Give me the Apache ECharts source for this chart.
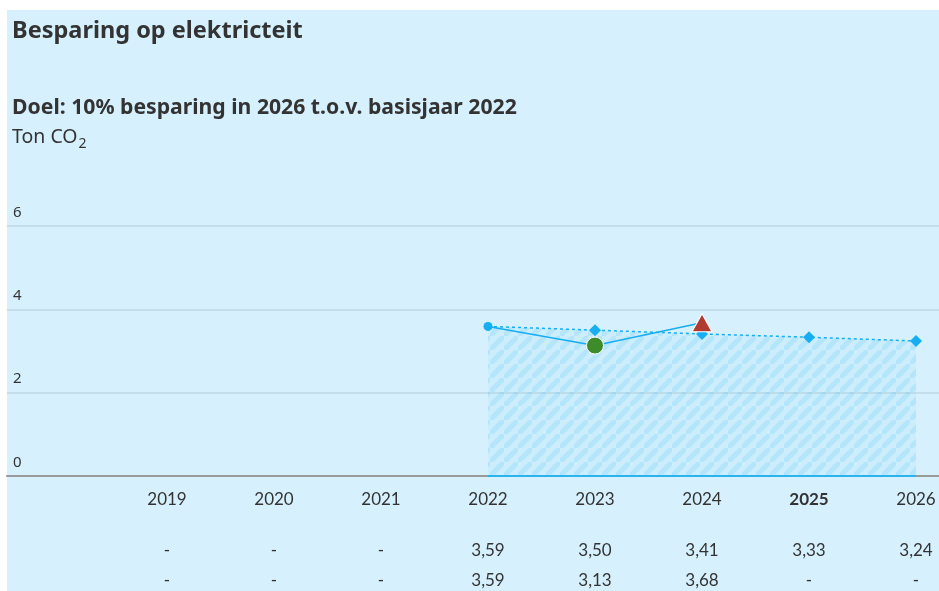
<!DOCTYPE html>
<html><head><meta charset="utf-8">
<script src="https://cdn.jsdelivr.net/npm/echarts@6/dist/echarts.min.js"></script>
<style>html,body{margin:0;padding:0;background:#fff}#c{width:939px;height:591px}</style>
</head><body><div id="c"></div>
<script>
// ---- data ----
const years = ['2019','2020','2021','2022','2023','2024','2025','2026'];
const target = [null, null, null, 3.59, 3.50, 3.41, 3.33, 3.24];
const actual = [null, null, null, 3.59, 3.13, 3.68, null, null];
const yTicks = [0, 2, 4, 6];
const boldYear = '2025';
const titleText = 'Besparing op elektricteit';
const subtitleText = 'Doel: 10% besparing in 2026 t.o.v. basisjaar 2022';
const unitMain = 'Ton CO';
const unitSub = '2';

const FONT = 'Lato, "Noto Sans", sans-serif';
const HFONT = '"Noto Sans", sans-serif';
const fmt = v => v == null ? '-' : v.toFixed(2).replace('.', ',');

// hatched pattern (semi-transparent so grid lines show through)
const T = 14;
const tile = document.createElement('canvas');
tile.width = T; tile.height = T;
const g = tile.getContext('2d');
g.fillStyle = 'rgba(23,174,242,0.05)'; g.fillRect(0, 0, T, T);
g.strokeStyle = 'rgba(23,174,242,0.13)'; g.lineWidth = 5;
g.beginPath();
g.moveTo(-T/2, T*1.5); g.lineTo(T*1.5, -T/2);
g.moveTo(-T*1.5, T/2); g.lineTo(T/2, -T*1.5);
g.moveTo(T/2, T*2.5); g.lineTo(T*2.5, T/2);
g.stroke();

// measure unit text for subscript placement
const unitFont = '19.5px ' + HFONT;
const mctx = document.createElement('canvas').getContext('2d');
mctx.font = unitFont;
const unitW = mctx.measureText(unitMain).width;

const chart = echarts.init(document.getElementById('c'), null, {renderer: 'canvas'});

const blue = '#17aef2';
const baseLine = target.map(v => v == null ? null : 0);

const actualData = actual.map((v, i) => {
  if (v == null) return null;
  if (years[i] === '2023') return {value: v, symbol: 'circle', symbolSize: 17, itemStyle: {color: '#3d8b2b', borderColor: '#fff', borderWidth: 1}};
  if (years[i] === '2024') return {value: v, symbol: 'triangle', symbolSize: [20, 18], itemStyle: {color: '#b03b30', borderColor: '#fff', borderWidth: 1}};
  return {value: v, symbol: 'circle', symbolSize: 9, itemStyle: {color: blue}};
});
const targetData = target.map((v, i) => {
  if (v == null) return null;
  if (i === target.findIndex(x => x != null)) return {value: v, symbol: 'circle', symbolSize: 8};
  return v;
});

const labelCommon = {fontFamily: FONT, fontSize: 17, color: '#333'};

chart.setOption({
  backgroundColor: '#fff',
  animation: false,
  graphic: [
    {type: 'rect', shape: {x: 7, y: 10, width: 932, height: 581}, style: {fill: '#d6f1fd'}, z: -10},
    {type: 'text', left: 12, top: 19, style: {text: titleText, font: 'bold 23.5px ' + HFONT, fill: '#333'}},
    {type: 'text', left: 12, top: 97, style: {text: subtitleText, font: 'bold 21.2px ' + HFONT, fill: '#333'}},
    {type: 'text', left: 12, top: 127, style: {text: unitMain, font: unitFont, fill: '#333'}},
    {type: 'text', left: 12 + unitW + 1, top: 137, style: {text: unitSub, font: '14px ' + HFONT, fill: '#333'}}
  ],
  grid: [
    {left: 7, right: 0, top: 226, bottom: 115},
    {left: 167, right: 23, top: 226, bottom: 115}
  ],
  xAxis: [
    {gridIndex: 0, type: 'value', min: 0, max: 1, show: true, axisLabel: {show: false}, axisTick: {show: false}, splitLine: {show: false},
     axisLine: {show: true, onZero: false, lineStyle: {color: '#9a9a9a', width: 2}}},
    {gridIndex: 1, type: 'category', data: years, boundaryGap: false, axisLine: {show: false}, axisTick: {show: false},
     axisLabel: {...labelCommon, margin: 15, formatter: v => v === boldYear ? '{b|' + v + '}' : v,
       rich: {b: {fontFamily: FONT, fontSize: 17, fontWeight: 'bold', color: '#333'}}}},
    {gridIndex: 1, type: 'category', data: years, boundaryGap: false, position: 'bottom', offset: 51, axisLine: {show: false}, axisTick: {show: false},
     axisLabel: {...labelCommon, margin: 15, formatter: (v, i) => fmt(target[i])}},
    {gridIndex: 1, type: 'category', data: years, boundaryGap: false, position: 'bottom', offset: 81, axisLine: {show: false}, axisTick: {show: false},
     axisLabel: {...labelCommon, margin: 15, formatter: (v, i) => fmt(actual[i])}}
  ],
  yAxis: [
    {gridIndex: 0, type: 'value', min: yTicks[0], max: yTicks[yTicks.length - 1], interval: 2,
     axisLine: {show: false}, axisTick: {show: false},
     splitLine: {show: true, lineStyle: {color: '#bed8e4', width: 1.5}},
     axisLabel: {inside: true, margin: 6, verticalAlign: 'bottom', padding: [0, 0, 6, 0], fontFamily: HFONT, fontSize: 15, color: '#333'}},
    {gridIndex: 1, type: 'value', min: yTicks[0], max: yTicks[yTicks.length - 1], interval: 2, show: false, splitLine: {show: false}}
  ],
  series: [
    {type: 'line', name: 'Doel', xAxisIndex: 1, yAxisIndex: 1, data: targetData, z: 3,
     symbol: 'diamond', symbolSize: 12, itemStyle: {color: blue},
     lineStyle: {color: blue, width: 1.5, type: [3, 3]},
     areaStyle: {color: {image: tile, repeat: 'repeat'}, opacity: 1, origin: 'start'}},
    {type: 'line', name: 'base', xAxisIndex: 1, yAxisIndex: 1, data: baseLine, z: 4, symbol: 'none',
     lineStyle: {color: '#29b3ef', width: 2}},
    {type: 'line', name: 'Werkelijk', xAxisIndex: 1, yAxisIndex: 1, data: actualData, z: 5,
     symbol: 'circle', symbolSize: 9, itemStyle: {color: blue},
     lineStyle: {color: blue, width: 1.5}}
  ]
});
</script></body></html>
